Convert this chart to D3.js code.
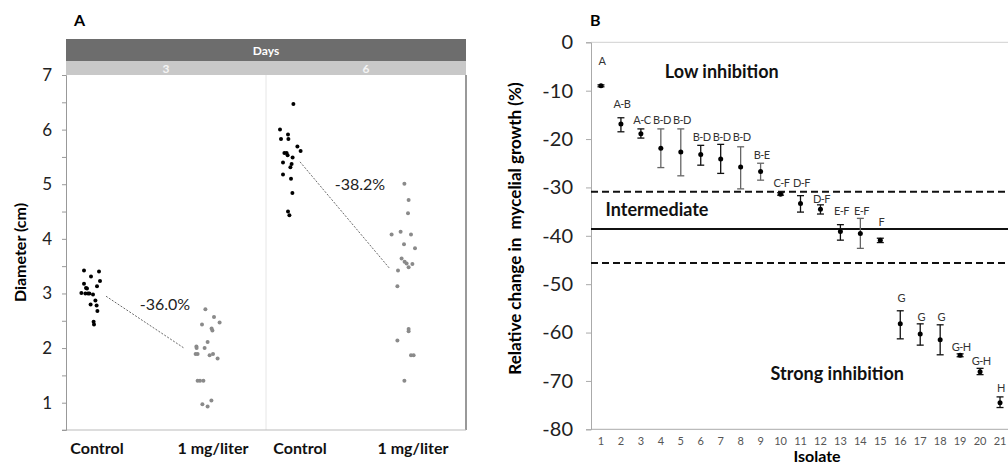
<!DOCTYPE html>
<html>
<head>
<meta charset="utf-8">
<script src="https://cdn.jsdelivr.net/npm/d3@7"></script>
<style>
  body { margin: 0; background: #fff; }
  svg { display: block; font-family: Lato, "Open Sans", sans-serif; }
</style>
</head>
<body>
<svg id="chart" width="1008" height="465"></svg>
<script>
// Panel A: [position within panel (day 3 = 0..1, day 6 = 1..2), diameter cm]
const day3Control = [
  [0.09, 3.42], [0.165, 3.40], [0.125, 3.31], [0.17, 3.23], [0.09, 3.18], [0.10, 3.10],
  [0.105, 3.09], [0.155, 3.13], [0.077, 3.01], [0.097, 3.0], [0.11, 3.0], [0.117, 3.0],
  [0.135, 2.98], [0.147, 2.87], [0.123, 2.80], [0.153, 2.78], [0.157, 2.68], [0.138, 2.48], [0.14, 2.43]
];
const day3Treated = [
  [0.697, 2.71], [0.74, 2.57], [0.768, 2.47], [0.68, 2.43], [0.728, 2.36], [0.732, 2.32],
  [0.708, 2.11], [0.652, 2.03], [0.653, 2.0], [0.693, 2.0], [0.648, 1.89], [0.658, 1.89],
  [0.718, 1.87], [0.735, 1.89], [0.758, 1.81], [0.658, 1.40], [0.67, 1.40], [0.687, 1.40],
  [0.727, 1.04], [0.682, 0.97], [0.708, 0.93]
];
const day6Control = [
  [1.137, 6.47], [1.07, 6.0], [1.11, 5.91], [1.112, 5.83], [1.075, 5.83], [1.157, 5.69],
  [1.173, 5.61], [1.092, 5.57], [1.103, 5.57], [1.108, 5.53], [1.133, 5.49], [1.085, 5.40],
  [1.128, 5.37], [1.122, 5.31], [1.085, 5.18], [1.125, 5.10], [1.132, 4.84], [1.11, 4.50], [1.117, 4.43]
];
const day6Treated = [
  [1.692, 5.01], [1.713, 4.71], [1.71, 4.47], [1.628, 4.08], [1.673, 4.13], [1.725, 4.08],
  [1.69, 3.90], [1.745, 3.83], [1.678, 3.64], [1.693, 3.58], [1.703, 3.55], [1.713, 3.48],
  [1.732, 3.54], [1.66, 3.42], [1.657, 3.13], [1.713, 2.35], [1.713, 2.31], [1.657, 2.14],
  [1.725, 1.87], [1.738, 1.87], [1.692, 1.40]
];
const trendLines = [
  { from: [0.2, 2.95], to: [0.59, 2.0], label: "-36.0%", at: [0.495, 2.80] },
  { from: [1.17, 5.41], to: [1.62, 3.45], label: "-38.2%", at: [1.47, 5.0] }
];
const groupLabels = [["Control", 0.155], ["1 mg/liter", 0.735], ["Control", 1.17], ["1 mg/liter", 1.735]];
const dayLabels = [["3", 0.5], ["6", 1.5]];
const yTicksA = [1, 2, 3, 4, 5, 6, 7];

// Panel B: isolates, mean, lower, upper, letter group and where the letter sits
const isolates = d3.range(1, 22).map(String);
const means = [-9.0, -16.9, -18.9, -21.9, -22.7, -23.2, -24.1, -25.8, -26.7, -31.4, -33.3,
  -34.5, -39.1, -39.5, -40.9, -58.2, -60.3, -61.5, -64.7, -68.1, -74.5];
const lower = [-9.2, -18.5, -19.8, -25.9, -27.6, -25.4, -27.1, -30.3, -28.5, -31.6, -35.1,
  -35.5, -40.9, -42.6, -41.4, -61.3, -62.6, -64.6, -65.0, -68.7, -75.5];
const upper = [-8.8, -15.6, -17.9, -17.9, -17.9, -21.3, -21.1, -21.6, -25.0, -31.1, -31.7,
  -33.6, -37.7, -36.4, -40.5, -55.5, -58.2, -58.4, -64.4, -67.4, -73.3];
const letters = ["A", "A-B", "A-C", "B-D", "B-D", "B-D", "B-D", "B-D", "B-E", "C-F", "D-F",
  "D-F", "E-F", "E-F", "F", "G", "G", "G", "G-H", "G-H", "H"];
const letterY = [-3.9, -12.7, -16.1, -16.1, -16.1, -19.6, -19.6, -19.6, -23.4, -29.1, -29.1,
  -32.3, -34.8, -34.8, -37.2, -52.8, -56.8, -56.8, -62.9, -65.8, -71.5];
const thresholds = [{ v: -30.9, dash: true }, { v: -38.6, dash: false }, { v: -45.6, dash: true }];
const zoneLabels = [["Low inhibition", 3.7, -7.4], ["Intermediate", 0.73, -35.9], ["Strong inhibition", 9.0, -69.8]];
const yTicksB = d3.range(-80, 1, 10);
const greyBars = ["4", "5", "8", "9", "14"];

const svg = d3.select("#chart");

// ---------- Panel A ----------
const xA = d3.scaleLinear().domain([0, 2]).range([66, 466]);
const yA = d3.scaleLinear().domain([0.5, 7]).range([430, 75]);

svg.append("text").attr("x", 74).attr("y", 26).attr("font-weight", "bold")
  .attr("font-size", 16).text("A");

// strip header
svg.append("rect").attr("x", xA(0)).attr("y", 39).attr("width", xA(2) - xA(0)).attr("height", 22).attr("fill", "#6d6d6d");
svg.append("rect").attr("x", xA(0)).attr("y", 61).attr("width", xA(2) - xA(0)).attr("height", 14).attr("fill", "#c8c8c8");
svg.append("text").attr("x", xA(1)).attr("y", 55).attr("text-anchor", "middle")
  .attr("fill", "#fff").attr("font-weight", "bold").attr("font-size", 12).text("Days");
svg.selectAll(".daylab").data(dayLabels).join("text")
  .attr("x", d => xA(d[1])).attr("y", 72.5).attr("text-anchor", "middle")
  .attr("fill", "#f4f4f4").attr("font-weight", "bold").attr("font-size", 12).text(d => d[0]);

// divider and borders
svg.append("line").attr("x1", xA(1)).attr("x2", xA(1)).attr("y1", 75).attr("y2", 430).attr("stroke", "#e6e6e6");
svg.append("line").attr("x1", xA(2)).attr("x2", xA(2)).attr("y1", 75).attr("y2", 430).attr("stroke", "#555").attr("stroke-width", 1.2);
svg.append("line").attr("x1", xA(0) - 4).attr("x2", xA(2)).attr("y1", 430).attr("y2", 430).attr("stroke", "#bbb");

const axisA = svg.append("g").attr("transform", `translate(${xA(0)},0)`)
  .call(d3.axisLeft(yA).tickValues(d3.range(0.5, 7.01, 0.5)).tickSize(4)
    .tickFormat(d => yTicksA.includes(d) ? d : ""));
axisA.select(".domain").attr("stroke", "#999");
axisA.selectAll(".tick line").attr("stroke", "#999");
axisA.selectAll(".tick text").attr("font-size", 17).attr("fill", "#222").attr("x", -14)
  .attr("font-family", "Lato, sans-serif");

svg.append("text").attr("transform", `translate(26,${yA(3.75)}) rotate(-90)`)
  .attr("text-anchor", "middle").attr("font-weight", "bold").attr("font-size", 16).text("Diameter (cm)");

svg.selectAll(".glab").data(groupLabels).join("text")
  .attr("x", d => xA(d[1])).attr("y", 454).attr("text-anchor", "middle")
  .attr("font-weight", "bold").attr("font-size", 16).attr("fill", "#111").text(d => d[0]);

trendLines.forEach(t => {
  svg.append("line").attr("x1", xA(t.from[0])).attr("y1", yA(t.from[1]))
    .attr("x2", xA(t.to[0])).attr("y2", yA(t.to[1]))
    .attr("stroke", "#444").attr("stroke-width", 0.8).attr("stroke-dasharray", "2,1.5");
  svg.append("text").attr("x", xA(t.at[0])).attr("y", yA(t.at[1]) + 6)
    .attr("text-anchor", "middle").attr("font-size", 16).attr("fill", "#222").text(t.label);
});

[[day3Control, "#000"], [day3Treated, "#8a8a8a"], [day6Control, "#000"], [day6Treated, "#8a8a8a"]]
  .forEach(([pts, col]) => {
    svg.append("g").selectAll("circle").data(pts).join("circle")
      .attr("cx", d => xA(d[0])).attr("cy", d => yA(d[1])).attr("r", 2).attr("fill", col);
  });

// ---------- Panel B ----------
const xB = d3.scaleBand().domain(isolates).range([591, 1010]);
const yB = d3.scaleLinear().domain([-80, 0]).range([429.3, 42.3]);
const cx = i => xB(i) + xB.bandwidth() / 2;

svg.append("text").attr("x", 590).attr("y", 26).attr("font-weight", "bold")
  .attr("font-size", 16).text("B");

svg.append("line").attr("x1", 591).attr("x2", 1008).attr("y1", yB(0)).attr("y2", yB(0)).attr("stroke", "#d0d0d0");
svg.append("line").attr("x1", 591).attr("x2", 1008).attr("y1", yB(-80)).attr("y2", yB(-80)).attr("stroke", "#aaa");

const axisB = svg.append("g").attr("transform", "translate(591,0)")
  .call(d3.axisLeft(yB).tickValues(yTicksB).tickSize(5).tickFormat(d => String(d)));
axisB.select(".domain").attr("stroke", "#aaa");
axisB.selectAll(".tick line").attr("stroke", "#aaa");
axisB.selectAll(".tick text").attr("font-size", 20).attr("fill", "#222").attr("x", -18)
  .attr("font-family", "Lato, sans-serif");

const xAxisB = svg.append("g").attr("transform", `translate(0,${yB(-80)})`)
  .call(d3.axisBottom(xB).tickSize(0).tickPadding(8));
xAxisB.select(".domain").remove();
xAxisB.selectAll(".tick text").attr("font-size", 11).attr("fill", "#555").attr("font-family", "Lato, sans-serif");

svg.append("text").attr("x", 817).attr("y", 462).attr("text-anchor", "middle")
  .attr("font-weight", "bold").attr("font-size", 16).text("Isolate");

svg.append("text").attr("transform", `translate(521,${yB(-38.5)}) rotate(-90)`)
  .attr("text-anchor", "middle").attr("font-weight", "bold").attr("font-size", 17)
  .style("white-space", "pre").text("Relative change in  mycelial growth (%)");

svg.selectAll(".thr").data(thresholds).join("line")
  .attr("x1", 591).attr("x2", 1008).attr("y1", d => yB(d.v)).attr("y2", d => yB(d.v))
  .attr("stroke", "#111").attr("stroke-width", 2)
  .attr("stroke-dasharray", d => d.dash ? "7,4" : null);

svg.selectAll(".zone").data(zoneLabels).join("text")
  .attr("x", d => xB.range()[0] + d[1] * xB.bandwidth()).attr("y", d => yB(d[2]))
  .attr("font-weight", "bold").attr("font-size", 18).attr("fill", "#111").text(d => d[0]);

const bars = svg.append("g").selectAll("g").data(isolates).join("g")
  .attr("stroke", d => greyBars.includes(d) ? "#666" : "#111").attr("stroke-width", 1.3);
bars.append("line").attr("x1", d => cx(d)).attr("x2", d => cx(d))
  .attr("y1", (d, i) => yB(lower[i])).attr("y2", (d, i) => yB(upper[i]));
bars.append("line").attr("x1", d => cx(d) - 3.5).attr("x2", d => cx(d) + 3.5)
  .attr("y1", (d, i) => yB(lower[i])).attr("y2", (d, i) => yB(lower[i]));
bars.append("line").attr("x1", d => cx(d) - 3.5).attr("x2", d => cx(d) + 3.5)
  .attr("y1", (d, i) => yB(upper[i])).attr("y2", (d, i) => yB(upper[i]));

svg.append("g").selectAll("circle").data(isolates).join("circle")
  .attr("cx", d => cx(d)).attr("cy", (d, i) => yB(means[i])).attr("r", 2.5).attr("fill", "#000");

svg.append("g").selectAll("text").data(isolates).join("text")
  .attr("x", d => cx(d) + 1).attr("y", (d, i) => yB(letterY[i]) + 4)
  .attr("text-anchor", "middle").attr("font-size", 11).attr("letter-spacing", -0.6)
  .attr("fill", "#333").text((d, i) => letters[i]);
</script>
</body>
</html>
